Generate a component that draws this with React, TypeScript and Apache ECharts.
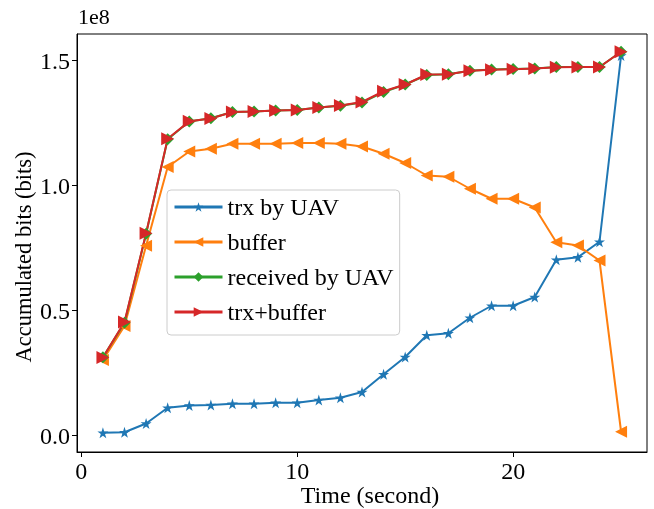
import React, { useEffect, useRef } from "react";
import * as echarts from "echarts";

// Time (second)
const timeSeconds = [1, 2, 3, 4, 5, 6, 7, 8, 9, 10, 11, 12, 13, 14, 15, 16, 17, 18, 19, 20, 21, 22, 23, 24, 25];

// Accumulated bits, in units of 1e8 bits
const trxByUav = [0.011, 0.013, 0.048, 0.111, 0.12, 0.122, 0.127, 0.127, 0.131, 0.131, 0.142, 0.151, 0.174, 0.245, 0.314, 0.401, 0.409, 0.471, 0.519, 0.519, 0.554, 0.703, 0.713, 0.775, 1.52];
const buffer = [0.302, 0.438, 0.759, 1.074, 1.136, 1.147, 1.167, 1.167, 1.167, 1.17, 1.17, 1.167, 1.156, 1.127, 1.09, 1.04, 1.035, 0.987, 0.947, 0.947, 0.912, 0.773, 0.76, 0.7, 0.015];
const receivedByUav = [0.313, 0.451, 0.807, 1.185, 1.256, 1.269, 1.294, 1.296, 1.3, 1.302, 1.312, 1.319, 1.332, 1.374, 1.404, 1.442, 1.445, 1.459, 1.464, 1.466, 1.468, 1.474, 1.474, 1.474, 1.535];
const trxPlusBuffer = [0.312, 0.454, 0.809, 1.187, 1.257, 1.268, 1.294, 1.296, 1.3, 1.302, 1.312, 1.32, 1.334, 1.377, 1.404, 1.444, 1.445, 1.459, 1.463, 1.465, 1.468, 1.473, 1.474, 1.474, 1.535];

const xTicks = [0, 10, 20];
const yTicks = [0, 0.5, 1.0, 1.5];
const seriesNames = ["trx by UAV", "buffer", "received by UAV", "trx+buffer"];
const xTitle = "Time (second)";
const yTitle = "Accumulated bits (bits)";
const offsetLabel = "1e8";

const FONT = "Liberation Serif";
const STAR = "path://M0,-1L0.2245,-0.309L0.951,-0.309L0.363,0.118L0.588,0.809L0,0.382L-0.588,0.809L-0.363,0.118L-0.951,-0.309L-0.2245,-0.309Z";
const DIAMOND = "path://M0,-1L1,0L0,1L-1,0Z";

export default function App() {
  const ref = useRef<HTMLDivElement>(null);
  useEffect(() => {
    if (!ref.current) return;
    const chart = echarts.init(ref.current, undefined, { renderer: "svg" });
    const mk = (vals: number[]) => timeSeconds.map((t, i) => [t, vals[i]]);
    const colors = ["#1f77b4", "#ff7f0e", "#2ca02c", "#d62728"];
    const defs = [
      { data: trxByUav, symbol: STAR, size: 11, rot: 0 },
      { data: buffer, symbol: "triangle", size: 12, rot: 90 },
      { data: receivedByUav, symbol: DIAMOND, size: 12, rot: 0 },
      { data: trxPlusBuffer, symbol: "triangle", size: 13, rot: -90 },
    ];
    chart.setOption({
      animation: false,
      color: colors,
      textStyle: { fontFamily: FONT },
      grid: { left: 77, top: 34, right: 7, bottom: 57, show: true, borderColor: "#000", borderWidth: 1, containLabel: false },
      graphic: [
        { type: "text", left: 78, top: 5, style: { text: offsetLabel, fontFamily: FONT, fontSize: 22, fill: "#000" } },
        { type: "text", x: 370, y: 495, style: { text: xTitle, fontFamily: FONT, fontSize: 24, lineHeight: 18, fill: "#000", align: "center", verticalAlign: "middle" } },
        { type: "text", x: 23, y: 257, rotation: Math.PI / 2, style: { text: yTitle, fontFamily: FONT, fontSize: 22.5, fill: "#000", align: "center", verticalAlign: "middle" } },
      ],
      legend: {
        orient: "vertical",
        left: 167,
        top: 190,
        itemWidth: 48,
        itemHeight: 12,
        itemGap: 11,
        padding: [5, 6, 11, 6],
        borderColor: "#ccc",
        borderWidth: 1,
        borderRadius: 4,
        backgroundColor: "rgba(255,255,255,0.8)",
        textStyle: { fontFamily: FONT, fontSize: 24, color: "#000", lineHeight: 24 },
        lineStyle: { width: 3 },
        data: seriesNames,
      },
      xAxis: {
        type: "value",
        min: -0.2,
        max: 26.2,
        axisLine: { show: true, onZero: false, lineStyle: { color: "#000" } },
        axisTick: { show: true, length: 5, customValues: xTicks, lineStyle: { color: "#000" } },
        axisLabel: { customValues: xTicks, fontFamily: FONT, fontSize: 24, lineHeight: 18, color: "#000", margin: 10 },
        splitLine: { show: false },
      },
      yAxis: {
        type: "value",
        min: -0.066,
        max: 1.606,
        axisLine: { show: true, onZero: false, lineStyle: { color: "#000" } },
        axisTick: { show: true, length: 5, customValues: yTicks, lineStyle: { color: "#000" } },
        axisLabel: { customValues: yTicks, fontFamily: FONT, fontSize: 24, color: "#000", margin: 7, formatter: (v: number) => v.toFixed(1) },
        splitLine: { show: false },
      },
      series: defs.map((d, i) => ({
        name: seriesNames[i],
        type: "line",
        data: mk(d.data),
        symbol: d.symbol,
        symbolSize: d.size,
        symbolRotate: d.rot,
        showSymbol: true,
        lineStyle: { width: 2, color: colors[i] },
        itemStyle: { color: colors[i], borderWidth: 0 },
        emphasis: { disabled: true },
      })),
    });
    return () => chart.dispose();
  }, []);
  return <div ref={ref} style={{ position: "fixed", left: 0, top: 0, width: 654, height: 509 }} />;
}
